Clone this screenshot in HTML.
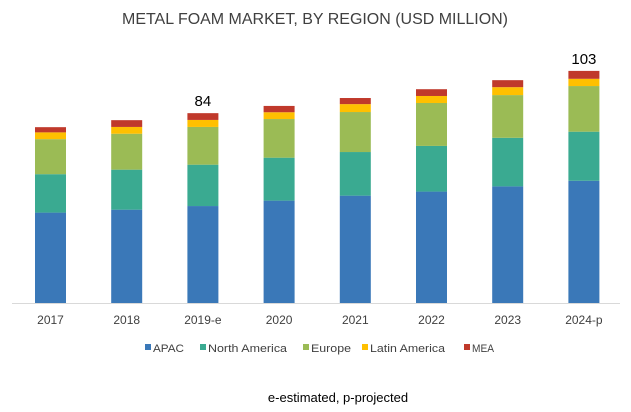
<!DOCTYPE html>
<html><head><meta charset="utf-8"><style>
body{margin:0;background:#fff;font-family:"Liberation Sans",sans-serif}
svg{display:block}
</style></head><body>
<svg id="chart" width="631" height="412">
<text x="315" y="24" text-anchor="middle" font-size="16" fill="#404040" textLength="386" lengthAdjust="spacingAndGlyphs">METAL FOAM MARKET, BY REGION (USD MILLION)</text>
<line x1="12" y1="303.5" x2="620" y2="303.5" stroke="#d9d9d9" stroke-width="1"/>
<g id="bars"></g>
<g id="legend"></g>
<text x="338" y="402" text-anchor="middle" font-size="13" fill="#000">e-estimated, p-projected</text>
</svg>
<script>
const categories=["2017","2018","2019-e","2020","2021","2022","2023","2024-p"];
const apac=[40,41.3,42.9,45.3,47.5,49.3,51.6,54.1];
const northAmerica=[17,17.7,18.3,19,19.3,20.2,21.5,21.7];
const europe=[15.5,15.9,16.7,17.1,17.7,19,18.9,20.2];
const latinAmerica=[3,3,3.1,3,3.5,3.1,3.5,3.2];
const mea=[2.3,3,3,2.8,2.7,3,3.1,3.5];
const totalLabels=["","","84","","","","","103"];
const seriesNames=["APAC","North America","Europe","Latin America","MEA"];
const seriesKeys=["apac","north-america","europe","latin-america","mea"];
const colors=["#3a78b8","#3aaa91","#9bbb55","#ffc000","#c0392b"];
const series=[apac,northAmerica,europe,latinAmerica,mea];
const NS="http://www.w3.org/2000/svg";
const base=303, ppu=2.26, x0=35, step=76.2, bw=31;
const y=v=>base-v*ppu;
const xb=i=>x0+i*step;
const g=document.getElementById('bars');
categories.forEach((c,i)=>{
  let cum=0;
  series.forEach((s,k)=>{
    const r=document.createElementNS(NS,'rect');
    r.setAttribute('x',xb(i));r.setAttribute('width',bw);
    r.setAttribute('y',y(cum+s[i]));r.setAttribute('height',s[i]*ppu);
    r.setAttribute('fill',colors[k]);
    
    
    g.appendChild(r);cum+=s[i];
  });
  const t=document.createElementNS(NS,'text');
  t.setAttribute('x',xb(i)+bw/2);t.setAttribute('y',324);
  t.setAttribute('text-anchor','middle');t.setAttribute('font-size','12');t.setAttribute('fill','#404040');
  t.textContent=c;
  
  
  g.appendChild(t);
  if(totalLabels[i]){
    const v=document.createElementNS(NS,'text');
    v.setAttribute('x',xb(i)+bw/2);v.setAttribute('y',y(cum)-7);
    v.setAttribute('text-anchor','middle');v.setAttribute('font-size','15');v.setAttribute('fill','#000');
    v.textContent=totalLabels[i];
    
    
    g.appendChild(v);
  }
});
const lg=document.getElementById('legend');
const lx=[145,200,303,362,464];
const lw=[31,79,40,75,22];
seriesNames.forEach((n,k)=>{
  const r=document.createElementNS(NS,'rect');
  r.setAttribute('x',lx[k]);r.setAttribute('y',344);r.setAttribute('width',6);r.setAttribute('height',6);
  r.setAttribute('fill',colors[k]);
  
  
  lg.appendChild(r);
  const t=document.createElementNS(NS,'text');
  t.setAttribute('x',lx[k]+8);t.setAttribute('y',352);t.setAttribute('font-size','11');t.setAttribute('fill','#404040');
  t.setAttribute('textLength',lw[k]);t.setAttribute('lengthAdjust','spacingAndGlyphs');
  t.textContent=n;
  
  
  lg.appendChild(t);
});
</script>
</body></html>
